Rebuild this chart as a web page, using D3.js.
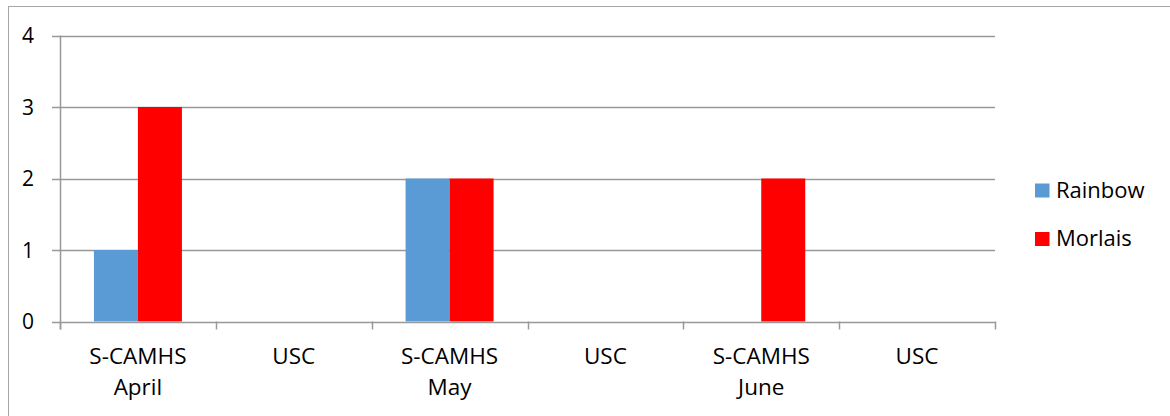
<!DOCTYPE html>
<html>
<head>
<meta charset="utf-8">
<script src="https://cdn.jsdelivr.net/npm/d3@7"></script>
<style>
  html, body { margin: 0; padding: 0; background: #fff; }
  svg { display: block; }
  text { font-family: "Open Sans", "Noto Sans", sans-serif; fill: #000; }
</style>
</head>
<body>
<svg id="chart" width="1170" height="416"></svg>
<script>
const categories = ["S-CAMHS|April", "USC|", "S-CAMHS|May", "USC|", "S-CAMHS|June", "USC|"];
const seriesNames = ["Rainbow", "Morlais"];
const rainbow = [1, 0, 2, 0, 0, 0];
const morlais = [3, 0, 2, 0, 2, 0];
const yTicks = [0, 1, 2, 3, 4];
const colors = ["#5B9BD5", "#FF0000"];

const svg = d3.select("#chart");
const W = 1170, H = 416;
const plot = { left: 60, right: 995, top: 35.5, bottom: 321.5 };

// outer frame
svg.append("rect")
  .attr("x", 8.5).attr("y", 6.5)
  .attr("width", W).attr("height", H)
  .attr("fill", "none").attr("stroke", "#a6a6a6").attr("stroke-width", 1);

const x = d3.scaleBand().domain(d3.range(categories.length))
  .range([plot.left, plot.right]).paddingInner(0).paddingOuter(0);
const y = d3.scaleLinear().domain([0, 4]).range([plot.bottom, plot.top]);

// gridlines
svg.append("g").selectAll("line").data(yTicks.filter(d => d > 0)).join("line")
  .attr("x1", plot.left - 8).attr("x2", plot.right)
  .attr("y1", d => Math.round(y(d)) + 0.5).attr("y2", d => Math.round(y(d)) + 0.5)
  .attr("stroke", "#999").attr("stroke-width", 1.5);

// bars
const barW = 44;
const seriesData = [rainbow, morlais];
seriesData.forEach((vals, si) => {
  svg.append("g").selectAll("rect").data(vals).join("rect")
    .attr("x", (d, i) => x(i) + x.bandwidth() / 2 - barW + si * barW)
    .attr("width", barW)
    .attr("y", d => y(d))
    .attr("height", d => y(0) - y(d))
    .attr("fill", colors[si]);
});

// y axis line and ticks
svg.append("line")
  .attr("x1", plot.left + 0.5).attr("x2", plot.left + 0.5)
  .attr("y1", plot.top).attr("y2", plot.bottom + 8)
  .attr("stroke", "#999").attr("stroke-width", 1.5);
svg.append("line")
  .attr("x1", plot.left - 8).attr("x2", plot.right)
  .attr("y1", Math.round(y(0)) + 0.5).attr("y2", Math.round(y(0)) + 0.5)
  .attr("stroke", "#999").attr("stroke-width", 1.5);

// x ticks at band boundaries
const bounds = d3.range(categories.length + 1).map(i => i < categories.length ? x(i) : x(i - 1) + x.bandwidth());
svg.append("g").selectAll("line").data(bounds).join("line")
  .attr("x1", d => Math.round(d) + 0.5).attr("x2", d => Math.round(d) + 0.5)
  .attr("y1", y(0)).attr("y2", y(0) + 8)
  .attr("stroke", "#999").attr("stroke-width", 1.5);

// y tick labels
svg.append("g").selectAll("text").data(yTicks).join("text")
  .attr("x", 34).attr("y", d => y(d) + 7.5)
  .attr("text-anchor", "end")
  .style("font-size", "21px")
  .text(d => d);

// x labels
const xl = svg.append("g").selectAll("text").data(categories).join("text")
  .attr("text-anchor", "middle")
  .style("font-size", "22.5px");
xl.each(function(d, i) {
  const parts = d.split("|");
  const t = d3.select(this);
  parts.forEach((p, j) => {
    if (!p) return;
    t.append("tspan").attr("x", x(i) + x.bandwidth() / 2).attr("y", 364 + j * 31).text(p);
  });
});

// legend
const lg = svg.append("g");
seriesNames.forEach((n, i) => {
  lg.append("rect").attr("x", 1035).attr("y", 183.5 + i * 48.5)
    .attr("width", 14.5).attr("height", 14).attr("fill", colors[i]);
  lg.append("text").attr("x", 1056).attr("y", 197.5 + i * 48.5)
    .style("font-size", "22px").text(n);
});
</script>
</body>
</html>
